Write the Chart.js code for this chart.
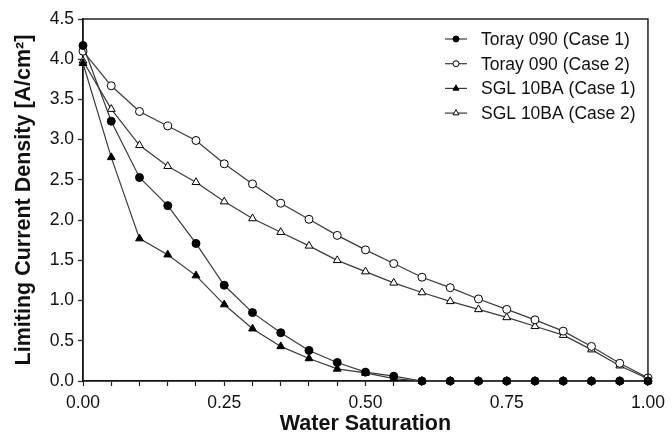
<!DOCTYPE html>
<html lang="en">
<head>
    <meta charset="UTF-8">
    <style>
        body {
            margin: 0;
            padding: 0;
            background: #ffffff;
        }

        .chart-container {
            position: relative;
            width: 672px;
            height: 434px;
        }
    </style>
    <script src="https://cdn.jsdelivr.net/npm/chart.js"></script>
</head>
<body>
    <div class="chart-container">
        <canvas id="saturationChart"></canvas>
    </div>

    <script>
        const saturation = [0.00, 0.05, 0.10, 0.15, 0.20, 0.25, 0.30, 0.35, 0.40, 0.45, 0.50,
                            0.55, 0.60, 0.65, 0.70, 0.75, 0.80, 0.85, 0.90, 0.95, 1.00];
        const toray1 = [4.17, 3.23, 2.53, 2.18, 1.71, 1.19, 0.85, 0.60, 0.38, 0.23, 0.11,
                        0.06, 0.00, 0.00, 0.00, 0.00, 0.00, 0.00, 0.00, 0.00, 0.00];
        const toray2 = [4.10, 3.67, 3.35, 3.17, 2.99, 2.70, 2.45, 2.21, 2.01, 1.81, 1.63,
                        1.46, 1.29, 1.16, 1.02, 0.89, 0.76, 0.62, 0.43, 0.22, 0.04];
        const sgl1 = [3.95, 2.78, 1.77, 1.57, 1.31, 0.95, 0.65, 0.43, 0.28, 0.15, 0.10,
                      0.03, 0.00, 0.00, 0.00, 0.00, 0.00, 0.00, 0.00, 0.00, 0.00];
        const sgl2 = [3.98, 3.38, 2.93, 2.67, 2.47, 2.23, 2.02, 1.85, 1.68, 1.50, 1.36,
                      1.22, 1.10, 0.99, 0.89, 0.79, 0.68, 0.57, 0.39, 0.19, 0.03];
        const seriesNames = ['Toray 090 (Case 1)', 'Toray 090 (Case 2)', 'SGL 10BA (Case 1)', 'SGL 10BA (Case 2)'];

        const FONT = "'Liberation Sans', Arial, sans-serif";
        const LINE = '#3a3a3a';

        function pairs(ys) {
            return saturation.map((x, i) => ({ x: x, y: ys[i] }));
        }

        function makeSet(label, ys, style, filled) {
            return {
                label: label,
                data: pairs(ys),
                showLine: true,
                borderColor: LINE,
                borderWidth: 1.2,
                pointStyle: style,
                pointRadius: style === 'triangle' ? 4.5 : 4,
                pointBackgroundColor: filled ? '#000000' : '#ffffff',
                pointBorderColor: '#000000',
                pointBorderWidth: 1,
                clip: false
            };
        }

        // legend drawn inside the plot, line through marker like the original
        const innerLegend = {
            id: 'innerLegend',
            afterDatasetsDraw(chart) {
                const ctx = chart.ctx;
                const x0 = 445, x1 = 467, tx = 481;
                let y = 39;
                ctx.save();
                chart.data.datasets.forEach(ds => {
                    ctx.strokeStyle = LINE;
                    ctx.lineWidth = 1.2;
                    ctx.beginPath();
                    ctx.moveTo(x0, y);
                    ctx.lineTo(x1, y);
                    ctx.stroke();
                    ctx.fillStyle = ds.pointBackgroundColor;
                    ctx.strokeStyle = '#000000';
                    ctx.lineWidth = 1;
                    Chart.helpers.drawPoint(ctx, {
                        pointStyle: ds.pointStyle,
                        radius: ds.pointStyle === 'triangle' ? 3.5 : 3,
                        rotation: 0,
                        borderWidth: 1
                    }, (x0 + x1) / 2, y);
                    ctx.fillStyle = '#111111';
                    ctx.font = '17.5px ' + FONT;
                    ctx.textAlign = 'left';
                    ctx.textBaseline = 'middle';
                    ctx.fillText(ds.label, tx, y + 1);
                    y += 24.7;
                });
                ctx.restore();
            }
        };

        const frame = {
            id: 'frame',
            afterDraw(chart) {
                const a = chart.chartArea;
                const ctx = chart.ctx;
                ctx.save();
                ctx.strokeStyle = '#222222';
                ctx.lineWidth = 1.5;
                ctx.beginPath();
                ctx.moveTo(a.left, a.top);
                ctx.lineTo(a.right, a.top);
                ctx.lineTo(a.right, a.bottom);
                ctx.stroke();
                ctx.restore();
            }
        };

        document.addEventListener("DOMContentLoaded", function () {
            const ctx = document.getElementById('saturationChart').getContext('2d');

            const config = {
                type: 'scatter',
                data: {
                    datasets: [
                        makeSet(seriesNames[0], toray1, 'circle', true),
                        makeSet(seriesNames[1], toray2, 'circle', false),
                        makeSet(seriesNames[2], sgl1, 'triangle', true),
                        makeSet(seriesNames[3], sgl2, 'triangle', false)
                    ]
                },
                options: {
                    responsive: true,
                    maintainAspectRatio: false,
                    animation: false,
                    layout: { padding: { left: 0, right: 20, top: 19, bottom: 0 } },
                    plugins: {
                        legend: { display: false },
                        tooltip: { enabled: false }
                    },
                    scales: {
                        x: {
                            type: 'linear',
                            min: 0,
                            max: 1,
                            afterFit(scale) { scale.height = 53; },
                            grid: {
                                drawOnChartArea: false,
                                drawTicks: true,
                                tickLength: 5,
                                tickColor: '#222222',
                                tickWidth: 1.2
                            },
                            border: { display: true, color: '#111111', width: 1.8 },
                            ticks: {
                                stepSize: 0.05,
                                autoSkip: false,
                                maxRotation: 0,
                                padding: 7,
                                color: '#111111',
                                font: { family: FONT, size: 17.5 },
                                callback: function (v) {
                                    const h = Math.round(v * 100);
                                    return h % 25 === 0 ? (h / 100).toFixed(2) : '';
                                }
                            },
                            title: {
                                display: true,
                                text: 'Water Saturation',
                                color: '#111111',
                                font: { family: FONT, size: 21.5, weight: 'bold', lineHeight: 0.9 },
                                padding: { top: 0, bottom: 0 }
                            }
                        },
                        y: {
                            min: 0,
                            max: 4.5,
                            afterFit(scale) { scale.width = 83; },
                            grid: {
                                drawOnChartArea: false,
                                drawTicks: true,
                                tickLength: 5,
                                tickColor: '#222222',
                                tickWidth: 1.2
                            },
                            border: { display: true, color: '#111111', width: 1.8 },
                            ticks: {
                                stepSize: 0.5,
                                padding: 4,
                                color: '#111111',
                                font: { family: FONT, size: 17.5 },
                                callback: function (v) { return v.toFixed(1); }
                            },
                            title: {
                                display: true,
                                text: 'Limiting Current Density [A/cm\u00B2]',
                                color: '#111111',
                                font: { family: FONT, size: 21.5, weight: 'bold', lineHeight: 1.0 },
                                padding: { top: 13, bottom: 0 }
                            }
                        }
                    }
                },
                plugins: [innerLegend, frame]
            };

            try {
                new Chart(ctx, config);
            } catch (error) {
                console.error("Error creating the chart:", error);
            }
        });
    </script>
</body>
</html>
